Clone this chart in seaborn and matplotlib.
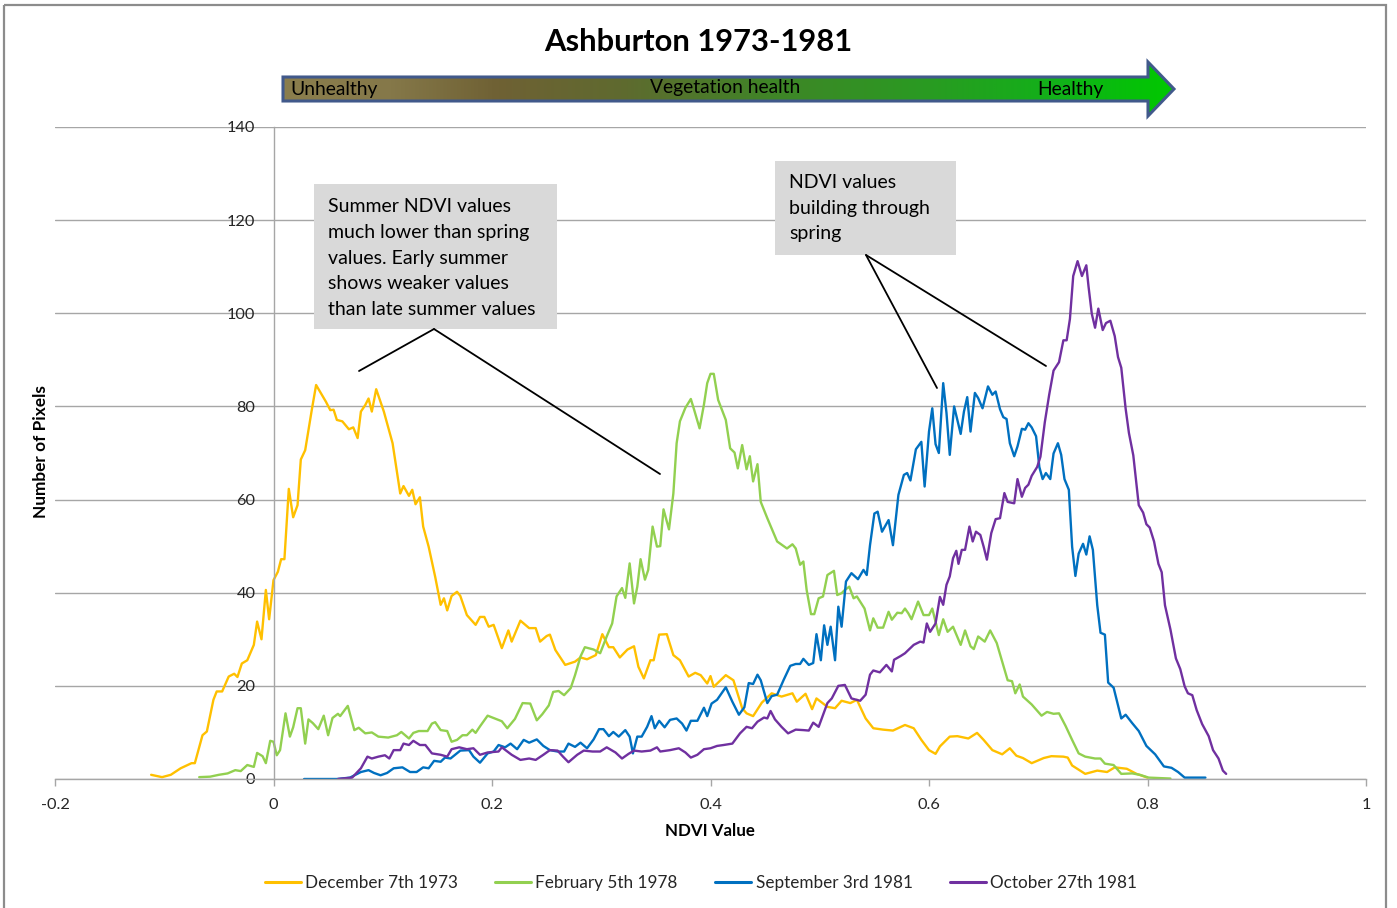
import numpy as np
import pandas as pd
import matplotlib
matplotlib.use("Agg")
import matplotlib.pyplot as plt
import seaborn as sns
from matplotlib.patches import Polygon, Rectangle
from matplotlib.lines import Line2D
from matplotlib.colors import LinearSegmentedColormap

# ---------------- data ----------------
dec_x = [-0.112, -0.102, -0.094, -0.085, -0.075, -0.072, -0.065, -0.061, -0.055, -0.052, -0.047, -0.041,
         -0.036, -0.033, -0.029, -0.024, -0.018, -0.015, -0.011, -0.007, -0.004, 0.000, 0.004, 0.007, 0.010,
         0.014, 0.018, 0.022, 0.025, 0.029, 0.035, 0.039, 0.043, 0.048, 0.052, 0.055, 0.058, 0.063, 0.069,
         0.073, 0.077, 0.080, 0.084, 0.087, 0.090, 0.094, 0.101, 0.109, 0.116, 0.119, 0.124, 0.127, 0.130,
         0.134, 0.137, 0.142, 0.148, 0.153, 0.156, 0.159, 0.163, 0.168, 0.171, 0.177, 0.185, 0.189, 0.193,
         0.197, 0.2015, 0.209, 0.215, 0.218, 0.226, 0.234, 0.240, 0.244, 0.250, 0.253, 0.258, 0.267, 0.276,
         0.281, 0.287, 0.295, 0.301, 0.307, 0.311, 0.317, 0.324, 0.330, 0.334, 0.339, 0.345, 0.348, 0.353,
         0.360, 0.366, 0.372, 0.380, 0.386, 0.391, 0.397, 0.400, 0.403, 0.414, 0.421, 0.429, 0.433, 0.439,
         0.447, 0.456, 0.465, 0.475, 0.479, 0.487, 0.493, 0.497, 0.507, 0.514, 0.520, 0.528, 0.534, 0.542,
         0.549, 0.558, 0.567, 0.578, 0.586, 0.593, 0.600, 0.606, 0.610, 0.619, 0.626, 0.636, 0.644, 0.650,
         0.658, 0.667, 0.674, 0.680, 0.686, 0.694, 0.705, 0.712, 0.723, 0.727, 0.731, 0.743, 0.754, 0.763,
         0.770, 0.781, 0.790, 0.800]
dec_y = [0.9, 0.4, 0.9, 2.3, 3.4, 3.4, 9.4, 10.2, 17.0, 18.8, 18.8, 22.0,
         22.6, 21.9, 24.8, 25.5, 28.8, 33.8, 30.0, 40.6, 34.3, 42.7, 44.5, 47.2, 47.2,
         62.3, 56.2, 58.8, 68.6, 70.6, 79.2, 84.6, 83.0, 81.0, 79.2, 79.3, 77.1, 76.8, 75.1,
         75.5, 73.2, 78.9, 80.3, 81.7, 78.9, 83.7, 78.9, 72.1, 61.3, 62.9, 60.8, 62.1, 59.0,
         60.5, 54.2, 49.9, 43.4, 37.4, 38.8, 36.2, 39.3, 40.2, 39.3, 35.2, 33.1, 34.8, 34.8,
         32.7, 33.1, 28.1, 31.9, 29.5, 34.0, 32.4, 32.4, 29.5, 30.7, 31.0, 27.7, 24.5, 25.2,
         26.1, 25.7, 26.6, 31.1, 28.3, 28.3, 26.1, 27.8, 28.5, 24.1, 21.6, 25.5, 25.5, 31.0,
         31.1, 26.6, 25.5, 22.0, 22.8, 22.3, 20.5, 22.1, 19.8, 22.3, 21.2, 15.2, 14.1, 13.5,
         16.4, 18.4, 17.7, 18.4, 16.6, 18.3, 15.0, 17.3, 15.5, 15.2, 16.8, 16.3, 17.0, 13.0,
         10.9, 10.6, 10.4, 11.6, 10.9, 8.4, 6.2, 5.4, 7.0, 9.1, 9.2, 8.7, 9.9, 8.4,
         6.2, 5.3, 6.6, 5.0, 4.5, 3.4, 4.5, 4.9, 4.8, 4.6, 2.9, 1.1, 1.8, 1.5,
         2.5, 2.2, 1.1, 0.3]

feb_x = [-0.068, -0.058, -0.050, -0.042, -0.035, -0.030, -0.024, -0.018, -0.015, -0.010, -0.007, -0.003,
         0.000, 0.003, 0.006, 0.011, 0.015, 0.018, 0.022, 0.025, 0.029, 0.032, 0.036, 0.041, 0.046, 0.050,
         0.054, 0.059, 0.061, 0.068, 0.074, 0.078, 0.084, 0.090, 0.096, 0.105, 0.113, 0.117, 0.124, 0.128,
         0.133, 0.141, 0.145, 0.148, 0.153, 0.159, 0.163, 0.168, 0.173, 0.177, 0.182, 0.185, 0.189, 0.196,
         0.2015, 0.209, 0.214, 0.221, 0.228, 0.235, 0.241, 0.246, 0.252, 0.256, 0.261, 0.266, 0.272, 0.276,
         0.281, 0.285, 0.293, 0.299, 0.305, 0.310, 0.314, 0.319, 0.322, 0.326, 0.330, 0.333, 0.336, 0.340,
         0.343, 0.347, 0.351, 0.354, 0.357, 0.362, 0.366, 0.369, 0.372, 0.377, 0.382, 0.385, 0.390, 0.394,
         0.397, 0.400, 0.403, 0.407, 0.414, 0.418, 0.422, 0.425, 0.429, 0.433, 0.436, 0.439, 0.443, 0.446,
         0.452, 0.461, 0.470, 0.475, 0.478, 0.482, 0.485, 0.488, 0.492, 0.495, 0.499, 0.503, 0.507, 0.513,
         0.516, 0.520, 0.523, 0.527, 0.531, 0.534, 0.541, 0.546, 0.549, 0.553, 0.558, 0.563, 0.566, 0.571,
         0.575, 0.578, 0.581, 0.584, 0.590, 0.595, 0.600, 0.603, 0.609, 0.613, 0.617, 0.622, 0.629, 0.633,
         0.638, 0.641, 0.645, 0.651, 0.656, 0.662, 0.667, 0.672, 0.676, 0.679, 0.683, 0.686, 0.694, 0.703,
         0.708, 0.714, 0.719, 0.725, 0.731, 0.737, 0.743, 0.752, 0.757, 0.761, 0.769, 0.776, 0.786, 0.793,
         0.801, 0.821]
feb_y = [0.4, 0.5, 0.9, 1.2, 1.9, 1.7, 3.0, 2.6, 5.6, 4.9, 3.4, 8.2,
         8.0, 5.1, 6.2, 14.1, 9.1, 11.1, 15.2, 15.2, 7.6, 12.8, 12.0, 10.7, 13.6, 9.4,
         13.1, 14.0, 13.5, 15.7, 10.5, 11.0, 9.8, 10.0, 9.1, 8.9, 9.4, 10.1, 8.7, 9.9,
         10.3, 10.3, 11.9, 12.2, 10.5, 10.3, 8.0, 8.4, 9.4, 9.4, 10.6, 9.9, 11.3, 13.6,
         13.1, 12.4, 10.9, 12.9, 16.3, 16.2, 12.6, 13.9, 15.8, 18.7, 18.9, 18.0, 19.5, 22.3,
         26.3, 28.3, 27.8, 27.0, 30.6, 33.4, 39.2, 41.0, 38.9, 46.3, 37.7, 41.3, 47.2, 42.8,
         44.9, 54.2, 49.9, 50.0, 57.9, 53.6, 61.3, 72.1, 76.8, 79.7, 81.6, 79.3, 75.3, 80.4,
         85.0, 87.0, 87.0, 81.4, 77.1, 71.0, 70.1, 66.7, 71.7, 66.5, 69.3, 63.9, 67.6, 59.5,
         56.0, 51.0, 49.5, 50.4, 49.5, 46.0, 46.7, 40.6, 35.4, 35.4, 38.8, 39.2, 43.8, 44.7,
         39.5, 39.9, 40.6, 41.3, 38.8, 39.2, 36.6, 31.9, 34.5, 32.5, 32.5, 35.9, 34.2, 35.7,
         35.6, 36.6, 35.6, 34.3, 38.1, 35.2, 35.2, 36.6, 30.9, 34.3, 31.6, 32.7, 28.8, 31.9,
         28.5, 27.9, 30.6, 29.5, 31.9, 29.2, 25.2, 21.2, 21.0, 18.4, 20.3, 17.7, 16.0, 13.6,
         14.4, 14.0, 14.1, 11.4, 8.4, 5.5, 4.8, 4.4, 4.4, 3.3, 3.0, 1.1, 1.2, 0.9,
         0.3, 0.1]

sep_x = [0.028, 0.058, 0.070, 0.080, 0.087, 0.092, 0.098, 0.104, 0.110, 0.118, 0.125, 0.131, 0.137,
         0.142, 0.147, 0.153, 0.157, 0.162, 0.171, 0.179, 0.183, 0.189, 0.196, 0.2015, 0.206, 0.212,
         0.217, 0.223, 0.229, 0.234, 0.241, 0.247, 0.253, 0.260, 0.266, 0.270, 0.276, 0.281, 0.287,
         0.293, 0.298, 0.302, 0.307, 0.311, 0.316, 0.322, 0.326, 0.329, 0.333, 0.337, 0.342, 0.346,
         0.349, 0.353, 0.358, 0.363, 0.369, 0.374, 0.378, 0.382, 0.388, 0.394, 0.397, 0.401, 0.406,
         0.414, 0.420, 0.426, 0.431, 0.435, 0.439, 0.443, 0.446, 0.452, 0.456, 0.461, 0.467, 0.473,
         0.478, 0.482, 0.485, 0.490, 0.494, 0.497, 0.501, 0.504, 0.507, 0.510, 0.514, 0.517, 0.520,
         0.524, 0.529, 0.535, 0.540, 0.543, 0.546, 0.550, 0.553, 0.557, 0.563, 0.567, 0.572, 0.577,
         0.580, 0.583, 0.588, 0.593, 0.596, 0.600, 0.603, 0.606, 0.609, 0.613, 0.616, 0.619, 0.623,
         0.629, 0.632, 0.635, 0.638, 0.642, 0.645, 0.649, 0.654, 0.658, 0.661, 0.665, 0.668, 0.671,
         0.674, 0.678, 0.681, 0.685, 0.688, 0.691, 0.694, 0.698, 0.701, 0.704, 0.707, 0.711, 0.714,
         0.718, 0.721, 0.724, 0.728, 0.731, 0.734, 0.737, 0.741, 0.744, 0.747, 0.750, 0.754, 0.757,
         0.761, 0.764, 0.769, 0.776, 0.780, 0.786, 0.792, 0.799, 0.807, 0.815, 0.822, 0.828, 0.834,
         0.853]
sep_y = [0.0, 0.0, 0.3, 1.5, 1.9, 1.3, 0.8, 1.3, 2.3, 2.5, 1.5, 1.5, 2.5,
         2.3, 3.9, 3.7, 4.6, 4.4, 6.1, 6.2, 4.8, 3.5, 5.5, 5.9, 7.3, 6.8,
         7.6, 6.4, 8.4, 7.8, 8.5, 7.1, 6.2, 5.9, 5.9, 7.6, 6.9, 7.8, 6.6,
         8.5, 10.7, 10.7, 9.2, 10.1, 9.1, 10.5, 9.1, 5.5, 9.1, 9.1, 11.2, 13.5,
         10.9, 12.5, 11.1, 12.7, 13.0, 11.9, 10.4, 12.5, 12.5, 15.3, 13.5, 16.2, 17.0,
         19.7, 16.6, 13.8, 15.4, 20.6, 20.4, 22.4, 21.2, 16.3, 17.8, 18.1, 21.3, 24.3,
         24.7, 24.7, 25.8, 24.5, 24.9, 31.1, 25.5, 33.0, 28.8, 32.7, 25.5, 37.0, 32.7,
         42.4, 44.2, 42.9, 44.9, 43.8, 50.2, 57.0, 57.4, 53.1, 55.6, 50.2, 61.0, 65.3,
         65.7, 64.1, 70.8, 72.4, 62.8, 74.6, 79.6, 71.9, 70.0, 85.0, 78.6, 69.6, 80.0,
         74.1, 78.9, 82.0, 74.6, 82.9, 81.8, 79.6, 84.3, 82.5, 83.2, 79.4, 77.7, 77.3,
         72.1, 69.3, 71.4, 75.2, 75.0, 76.4, 75.5, 73.6, 67.0, 64.4, 65.7, 64.4, 69.9,
         72.1, 69.6, 64.4, 62.1, 49.9, 43.6, 48.4, 50.5, 48.2, 52.1, 49.2, 37.3, 31.4,
         31.0, 20.7, 19.6, 13.0, 13.8, 12.0, 10.3, 7.1, 5.3, 2.7, 2.4, 1.5, 0.3,
         0.3]

oct_x = [0.059, 0.072, 0.080, 0.086, 0.090, 0.096, 0.102, 0.106, 0.110, 0.116, 0.119, 0.124, 0.128,
         0.134, 0.139, 0.145, 0.153, 0.159, 0.163, 0.170, 0.177, 0.183, 0.189, 0.196, 0.206, 0.209,
         0.218, 0.226, 0.234, 0.240, 0.247, 0.253, 0.260, 0.265, 0.270, 0.278, 0.284, 0.292, 0.299,
         0.305, 0.313, 0.319, 0.325, 0.330, 0.337, 0.345, 0.351, 0.354, 0.363, 0.371, 0.377, 0.382,
         0.388, 0.394, 0.400, 0.406, 0.412, 0.420, 0.427, 0.433, 0.438, 0.443, 0.449, 0.452, 0.455,
         0.459, 0.465, 0.471, 0.478, 0.485, 0.490, 0.494, 0.499, 0.507, 0.511, 0.517, 0.523, 0.529,
         0.537, 0.542, 0.546, 0.549, 0.555, 0.561, 0.566, 0.568, 0.574, 0.578, 0.586, 0.592, 0.595,
         0.598, 0.601, 0.606, 0.610, 0.613, 0.616, 0.619, 0.622, 0.625, 0.627, 0.630, 0.633, 0.637,
         0.640, 0.643, 0.647, 0.650, 0.653, 0.657, 0.661, 0.665, 0.669, 0.672, 0.678, 0.681, 0.685,
         0.688, 0.691, 0.694, 0.699, 0.702, 0.706, 0.710, 0.714, 0.719, 0.723, 0.726, 0.729, 0.732,
         0.736, 0.740, 0.744, 0.746, 0.749, 0.752, 0.755, 0.759, 0.762, 0.766, 0.770, 0.773, 0.776,
         0.780, 0.783, 0.787, 0.792, 0.796, 0.799, 0.802, 0.806, 0.810, 0.813, 0.816, 0.821, 0.826,
         0.830, 0.834, 0.837, 0.841, 0.845, 0.850, 0.856, 0.860, 0.865, 0.869, 0.872]
oct_y = [0.0, 0.3, 2.3, 4.8, 4.4, 4.8, 5.1, 4.4, 6.2, 6.2, 7.6, 7.3, 8.2,
         7.3, 7.3, 5.5, 5.2, 4.8, 6.4, 6.8, 6.4, 6.6, 5.2, 5.7, 5.9, 6.8,
         5.2, 4.1, 4.4, 4.1, 5.2, 6.2, 6.1, 4.8, 3.6, 5.2, 6.1, 5.9, 5.9,
         6.8, 5.7, 4.4, 5.4, 6.1, 5.9, 6.1, 6.8, 5.9, 6.2, 6.6, 5.7, 4.6,
         5.2, 6.4, 6.6, 7.1, 7.3, 7.6, 9.8, 11.2, 10.9, 12.3, 13.2, 13.0, 14.6,
         12.8, 11.2, 9.8, 10.6, 10.5, 10.4, 12.1, 11.2, 16.3, 17.3, 20.0, 20.2, 17.3,
         16.8, 18.1, 22.4, 23.3, 22.9, 24.5, 23.1, 25.6, 26.4, 27.0, 28.8, 29.5, 29.3,
         33.4, 31.6, 33.4, 39.1, 37.4, 41.7, 43.5, 47.4, 49.0, 46.2, 49.2, 49.2, 54.2,
         51.0, 53.1, 52.4, 49.9, 47.1, 52.8, 55.8, 56.0, 61.4, 59.5, 59.2, 64.4, 60.6,
         62.5, 63.2, 65.1, 67.0, 69.2, 76.6, 82.5, 87.7, 89.5, 94.2, 94.2, 98.8, 108.0,
         111.2, 108.0, 110.3, 105.8, 99.9, 96.9, 101.0, 96.4, 97.9, 98.4, 95.1, 90.6, 88.3,
         79.5, 74.3, 69.5, 58.8, 57.2, 54.7, 54.0, 51.0, 46.2, 44.4, 37.3, 32.1, 25.9,
         23.6, 19.9, 18.4, 18.0, 14.8, 11.8, 9.2, 6.2, 4.4, 1.8, 1.1]

series_names = ["December 7th 1973", "February 5th 1978", "September 3rd 1981", "October 27th 1981"]
series_colors = ["#FFC000", "#92D050", "#0070C0", "#7030A0"]
x_ticks = [-0.2, 0, 0.2, 0.4, 0.6, 0.8, 1]
x_tick_labels = ["-0.2", "0", "0.2", "0.4", "0.6", "0.8", "1"]
y_ticks = [0, 20, 40, 60, 80, 100, 120, 140]

title_text = "Ashburton 1973-1981"
x_label = "NDVI Value"
y_label = "Number of Pixels"
note1_lines = ["Summer NDVI values", "much lower than spring", "values. Early summer",
               "shows weaker values", "than late summer values"]
note2_lines = ["NDVI values", "building through", "spring"]
arrow_labels = ["Unhealthy", "Vegetation health", "Healthy"]

# ---------------- figure ----------------
sns.set_theme(style="white")
plt.rcParams['font.family'] = ['Lato', 'DejaVu Sans']
TXT = "#262626"
GRID = "#a6a6a6"

frames = []
for name, xs, ys in zip(series_names, [dec_x, feb_x, sep_x, oct_x], [dec_y, feb_y, sep_y, oct_y]):
    frames.append(pd.DataFrame({"ndvi": xs, "pixels": ys, "series": name}))
df = pd.concat(frames, ignore_index=True)

W, H = 1397, 908
fig = plt.figure(figsize=(W / 100, H / 100), dpi=100)
fig.patch.set_facecolor("white")

L, R, T, B = 55, 1366, 127, 779
ax = fig.add_axes([L / W, 1 - B / H, (R - L) / W, (B - T) / H])
sns.lineplot(data=df, x="ndvi", y="pixels", hue="series", hue_order=series_names,
             palette=dict(zip(series_names, series_colors)), sort=False, estimator=None,
             linewidth=1.7, ax=ax, legend=False)

ax.set_xlim(-0.2, 1.0)
ax.set_ylim(0, 140)
ax.set_xticks(x_ticks)
ax.set_xticklabels(x_tick_labels)
ax.set_yticks(y_ticks)
ax.set_yticklabels([str(v) for v in y_ticks])
ax.set_xlabel("")
ax.set_ylabel("")
ax.yaxis.grid(True, color=GRID, linewidth=1.0)
ax.xaxis.grid(False)
ax.set_axisbelow(True)
for s in ["top", "right"]:
    ax.spines[s].set_visible(False)
ax.spines["left"].set_position(("data", 0))
ax.spines["left"].set_color(GRID)
ax.spines["left"].set_linewidth(1.0)
ax.spines["bottom"].set_color(GRID)
ax.spines["bottom"].set_linewidth(1.0)
ax.tick_params(axis="y", length=0, pad=13, labelsize=11.8, labelcolor=TXT)
ax.tick_params(axis="x", length=5, width=1, color=GRID, direction="out", pad=9,
               labelsize=11.8, labelcolor=TXT, bottom=True)

# axis labels
fig.text(710 / W, 1 - 831 / H, x_label, ha="center", va="center", fontsize=12.2,
         fontweight="bold", color="black")
fig.text(41 / W, 1 - 452 / H, y_label, ha="center", va="center", rotation=90,
         fontsize=12.4, fontweight="bold", color="black")

# legend
handles = [Line2D([0], [0], color=c, lw=2.2) for c in series_colors]
fig.legend(handles, series_names, loc="center", bbox_to_anchor=(701 / W, 1 - 883 / H),
           ncol=4, frameon=False, fontsize=12.3, handlelength=2.1, handletextpad=0.25,
           columnspacing=2.2, labelcolor=TXT)

# ---------------- overlay (pixel coordinates) ----------------
ov = fig.add_axes([0, 0, 1, 1])
ov.set_xlim(0, W)
ov.set_ylim(H, 0)
ov.axis("off")
ov.patch.set_alpha(0)

# chart border
ov.add_patch(Rectangle((4, 5), 1382, 930, fill=False, edgecolor="#8c8c8c", lw=1.6))

# title
ov.text(698, 42, title_text, ha="center", va="center", fontsize=22.2, fontweight="bold", color="black")

# gradient arrow
arrow_pts = [(283, 77), (1148, 77), (1148, 62), (1174, 89), (1148, 116), (1148, 101), (283, 101)]
cmap = LinearSegmentedColormap.from_list("veg", [
    (0.0, "#8b7e4d"), (0.12, "#857849"), (0.24, "#6f6134"), (0.38, "#5f6a2f"),
    (0.55, "#3f8527"), (0.72, "#2a9a22"), (0.88, "#10b318"), (1.0, "#00c800")])
grad = np.linspace(0, 1, 512).reshape(1, -1)
im = ov.imshow(grad, cmap=cmap, extent=(283, 1174, 116, 62), aspect="auto", zorder=2)
clip = Polygon(arrow_pts, closed=True, transform=ov.transData, facecolor="none", edgecolor="none")
ov.add_patch(clip)
im.set_clip_path(clip)
ov.add_patch(Polygon(arrow_pts, closed=True, facecolor="none", edgecolor="#41598b", lw=2.2,
                     joinstyle="miter", zorder=3))
ov.text(290, 89, arrow_labels[0], ha="left", va="center", fontsize=13.9, color="black", zorder=4)
ov.text(725, 88, arrow_labels[1], ha="center", va="center", fontsize=13.9, color="black", zorder=4)
ov.text(1070, 89, arrow_labels[2], ha="center", va="center", fontsize=13.9, color="black", zorder=4)

# callout boxes
ov.add_patch(Rectangle((314, 184), 243, 145, facecolor="#d9d9d9", edgecolor="none", zorder=2))
for i, line in enumerate(note1_lines):
    ov.text(328, 212.5 + i * 25.6, line, ha="left", va="baseline", fontsize=14, color="black", zorder=3)
ov.plot([434, 359], [329, 371], color="black", lw=1.3, zorder=3)
ov.plot([434, 660], [329, 474], color="black", lw=1.3, zorder=3)

ov.add_patch(Rectangle((775, 161), 181, 94, facecolor="#d9d9d9", edgecolor="none", zorder=2))
for i, line in enumerate(note2_lines):
    ov.text(789, 188.5 + i * 25.3, line, ha="left", va="baseline", fontsize=14, color="black", zorder=3)
ov.plot([866, 937], [255, 388], color="black", lw=1.3, zorder=3)
ov.plot([866, 1046], [255, 366], color="black", lw=1.3, zorder=3)

fig.savefig("out.png", dpi=100, facecolor="white")
